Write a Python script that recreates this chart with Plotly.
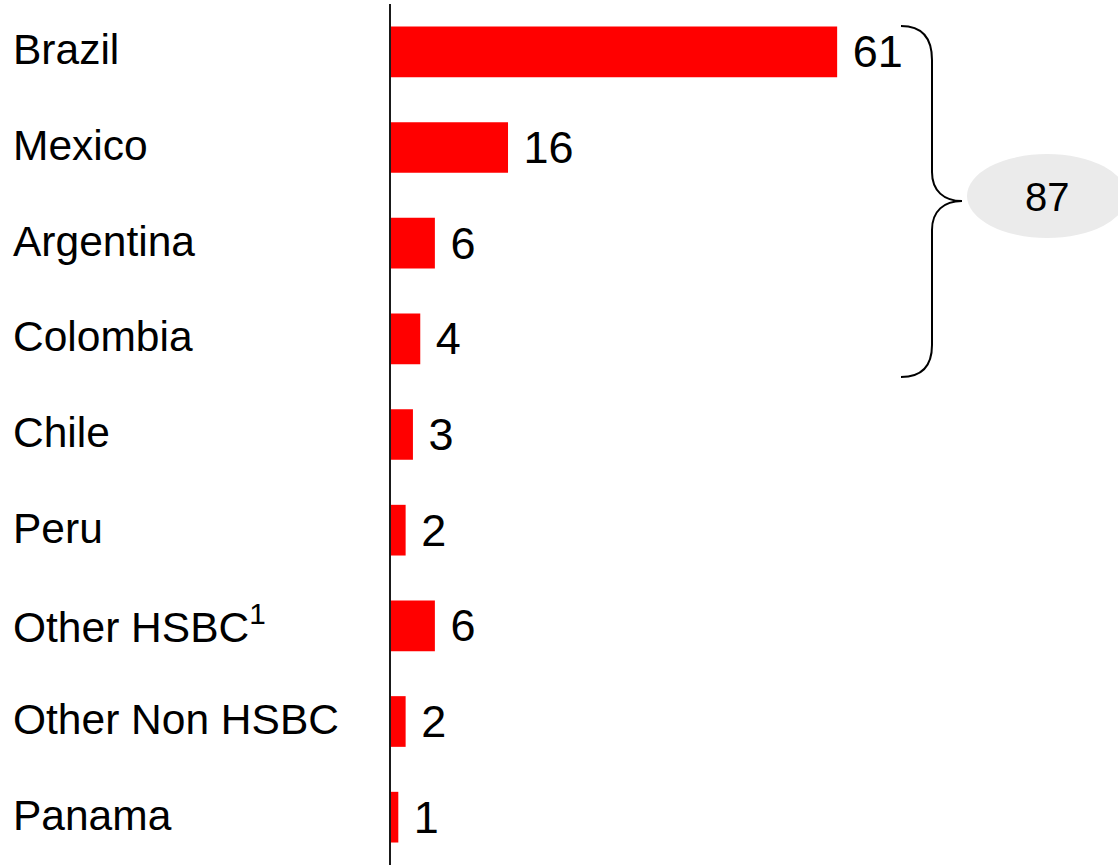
import plotly.graph_objects as go

categories = ["Brazil", "Mexico", "Argentina", "Colombia", "Chile", "Peru",
              "Other HSBC<sup>1</sup>", "Other Non HSBC", "Panama"]
values = [61, 16, 6, 4, 3, 2, 6, 2, 1]
value_labels = [str(v) for v in values]
bracket_total = "87"

W, H = 1118, 865
ML, MR, MT, MB = 391, 0, 4, 0
PW, PH = W - ML - MR, H - MT - MB
FONT = "Arial, 'Liberation Sans', sans-serif"


def px(x):
    return (x - ML) / PW


def py(y):
    return 1 - (y - MT) / PH


fig = go.Figure()
fig.add_trace(go.Bar(
    y=categories, x=values, orientation="h",
    marker=dict(color="#ff0000", line=dict(width=0)),
    text=["\u00a0" + t for t in value_labels],
    textposition="outside", constraintext="none", cliponaxis=False,
    textfont=dict(family=FONT, size=45, color="#000000"),
    width=0.53, hoverinfo="skip",
))

annotations = []
for c in categories:
    annotations.append(dict(
        x=px(11), xref="paper", y=c, yref="y", text=c, showarrow=False,
        xanchor="left", yanchor="middle", yshift=2,
        font=dict(family=FONT, size=42.5, color="#000000"),
    ))

annotations.append(dict(
    x=px(1047), xref="paper", y=py(197), yref="paper", text=bracket_total,
    showarrow=False, xanchor="center", yanchor="middle",
    font=dict(family=FONT, size=40, color="#000000"),
))

pts = [
    ("M", 901, 26), ("C", 921, 26, 932, 36, 932, 60), ("L", 932, 172),
    ("C", 932, 191, 944, 201, 962, 201), ("C", 944, 201, 932, 211, 932, 230),
    ("L", 932, 345), ("C", 932, 367, 921, 377, 901, 377),
]
path = ""
for p in pts:
    cmd, coords = p[0], p[1:]
    s = []
    for i in range(0, len(coords), 2):
        s.append(f"{px(coords[i]):.5f},{py(coords[i+1]):.5f}")
    path += cmd + " " + " ".join(s) + " "

shapes = [
    dict(type="circle", xref="paper", yref="paper",
         x0=px(967), x1=px(1127), y0=py(238), y1=py(154),
         fillcolor="#ebebeb", line=dict(width=0), layer="below"),
    dict(type="path", xref="paper", yref="paper", path=path.strip(),
         line=dict(color="#000000", width=2)),
]

fig.update_layout(
    width=W, height=H,
    margin=dict(l=ML, r=MR, t=MT, b=MB, pad=0),
    paper_bgcolor="white", plot_bgcolor="white",
    showlegend=False,
    xaxis=dict(range=[0, 99.4], visible=False, fixedrange=True),
    yaxis=dict(categoryorder="array", categoryarray=categories,
               range=[8.5, -0.5], showticklabels=False, ticks="",
               showgrid=False, zeroline=False,
               showline=True, linecolor="#1a1a1a", linewidth=2,
               fixedrange=True),
    annotations=annotations,
    shapes=shapes,
)

fig.write_html(
    "out.html",
    config={"displayModeBar": False},
    post_script="document.body.style.margin='0';document.body.style.overflow='hidden';",
)
